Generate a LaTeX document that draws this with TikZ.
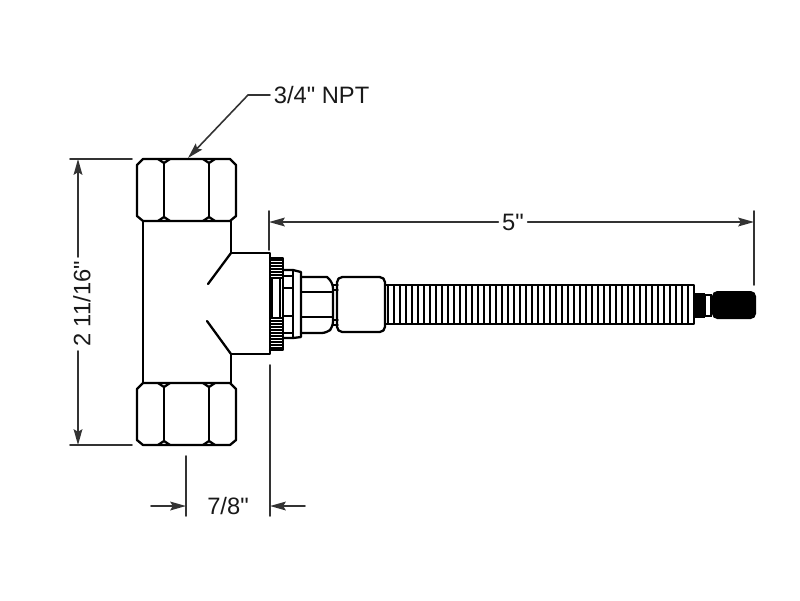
\documentclass[tikz,border=0pt]{standalone}
\usepackage{fontspec}
\setmainfont{Liberation Sans}[Ligatures=TeXOff]
\usetikzlibrary{arrows.meta}

\begin{document}
\begin{tikzpicture}[x=0.02cm,y=-0.02cm,line cap=round]
  \tikzset{
    part/.style={line width=1.3pt,black,line join=round},
    fine/.style={line width=0.8pt,black},
    dimline/.style={line width=0.9pt,black!80},
    dimarrow/.style={dimline,-{Stealth[length=9pt,width=5pt,inset=1.5pt]}},
    dimtext/.style={font=\fontsize{13.5}{15}\selectfont,black!90,inner sep=2pt},
    hexnut/.pic={
      \draw[part] (0,6) -- (6,0) -- (93,0) -- (99,6) -- (99,57) -- (93,62) -- (6,62) -- (0,57) -- cycle;
      \draw[part] (27,4) -- (27,58) (72,4) -- (72,58);
      \draw[part] (21,0) -- (27,4) -- (33,0) (66,0) -- (72,4) -- (78,0);
      \draw[part] (21,62) -- (27,58) -- (33,62) (66,62) -- (72,58) -- (78,62);
    }
  }
  \useasboundingbox (0,0) rectangle (800,600);

  % Tee body
  \draw[part] (143,221) -- (143,383);
  \draw[part] (231,221) -- (231,253) -- (270,253) -- (270,354) -- (231,354) -- (231,383);
  \draw[part] (231,253) -- (208,284);
  \draw[part] (231,354) -- (207,321);

  % End nuts
  \pic at (137,159) {hexnut};
  \pic at (137,383) {hexnut};

  % Knurled ring
  \draw[part] (270,258) -- (283,258) -- (283,350) -- (270,350);
  \foreach \y in {260,263,...,278} \draw[fine,line width=1.1pt] (270,\y) -- (283,\y);
  \foreach \y in {318,321,...,349} \draw[fine,line width=1.1pt] (270,\y) -- (283,\y);
  \draw[fine] (272,279) -- (272,317) (280,279) -- (280,317);

  % Flange and collar
  \draw[part] (283,270) -- (293,270) -- (301,272) -- (301,337) -- (293,338) -- (283,338);
  \draw[part] (293,270) -- (293,338);
  \draw[fine] (283,276) -- (293,276) (283,288) -- (293,288) (283,316) -- (293,316) (283,333) -- (293,333);
  \draw[fine] (283,288) -- (283,316);

  % Hex section
  \draw[part] (301,277) -- (327,277) [rounded corners=3pt] -- (333,283) -- (333,327) -- (327,333) [sharp corners] -- (301,333);
  \draw[fine] (301,292) -- (332,292) (301,317) -- (332,317);
  \draw[fine] (333,285) -- (338,285) (333,290) -- (338,290) (333,320) -- (338,320) (333,325) -- (338,325);

  % Coupling
  \draw[part,rounded corners=3pt] (337,277) rectangle (385,332);

  % Threaded stem
  \draw[part] (386,285) -- (694,285) -- (694,324) -- (386,324);
  \foreach \x in {388,394,...,692} \draw[fine] (\x,285) -- (\x,324);

  % Tip
  \fill (694,293) rectangle (705,318);
  \draw[fine] (705,295) rectangle (711,316);
  \fill[rounded corners=3pt] (712,291) rectangle (756,319);

  % Leader
  \node[dimtext,anchor=west] (npt) at (270,95) {3/4" NPT};
  \coordinate (nuttop) at (188,158);
  \draw[dimarrow] (npt.west) -- (248,95) -- (nuttop);

  % Height
  \coordinate (heighttop) at (78,159);
  \coordinate (heightbot) at (78,445);
  \node[dimtext,rotate=90] (height) at (82,304) {2 11/16"};
  \draw[dimline] (70,159) -- (132,159) (70,445) -- (132,445);
  \draw[dimarrow] (78,257) -- (heighttop);
  \draw[dimarrow] (78,351) -- (heightbot);

  % Length
  \coordinate (lengthleft) at (269,222);
  \coordinate (lengthright) at (754,222);
  \node[dimtext] (length) at (513,222) {5"};
  \draw[dimline] (269,211) -- (269,250) (754,211) -- (754,285);
  \draw[dimarrow] (length.west) -- (lengthleft);
  \draw[dimarrow] (length.east) -- (lengthright);

  % Offset
  \coordinate (offleft) at (186,506);
  \coordinate (offright) at (270,506);
  \coordinate (offstartl) at (151,506);
  \coordinate (offstartr) at (305,506);
  \node[dimtext] (offset) at (228,506) {7/8"};
  \draw[dimline] (186,456) -- (186,516) (270,365) -- (270,516);
  \draw[dimarrow] (offstartl) -- (offleft);
  \draw[dimarrow] (offstartr) -- (offright);
\end{tikzpicture}
\end{document}
